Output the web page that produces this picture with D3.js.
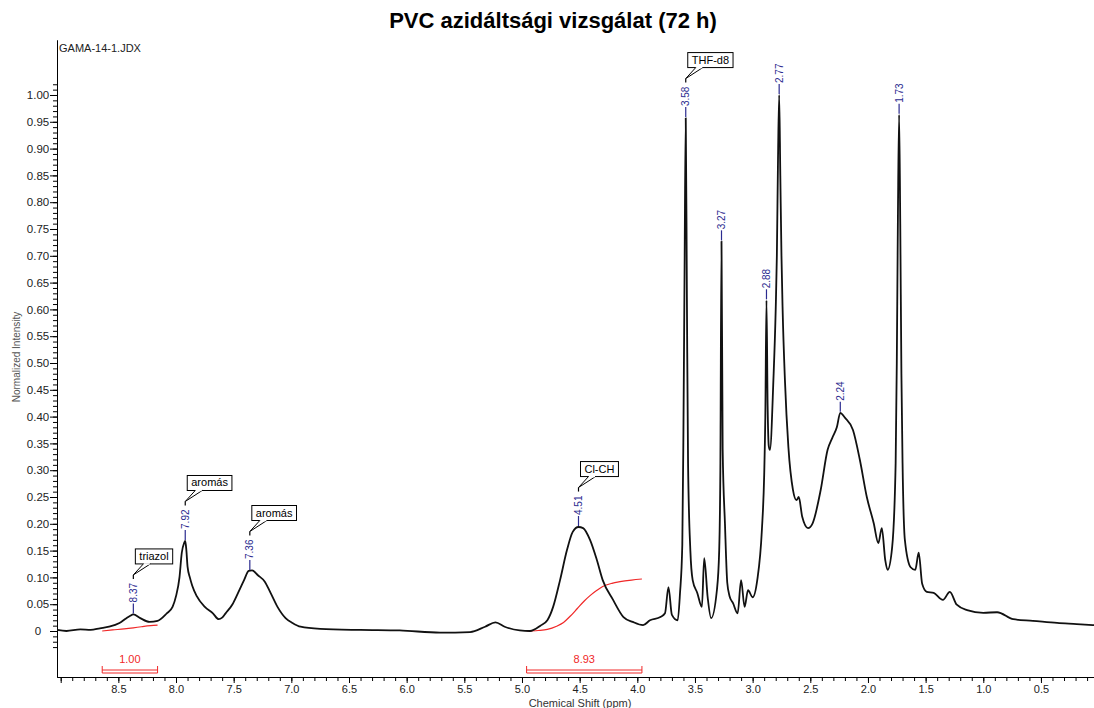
<!DOCTYPE html>
<html>
<head>
<meta charset="utf-8">
<script src="https://cdn.jsdelivr.net/npm/d3@7"></script>
<style>
body { margin: 0; background: #fff; }
svg { font-family: "Liberation Sans", Arial, sans-serif; }
</style>
</head>
<body>
<div id="chart"></div>
<script>
// spectrum (ppm, normalized intensity)
const specPpm = [9.03, 8.95, 8.83, 8.74, 8.66, 8.58, 8.49, 8.43, 8.40, 8.37, 8.31, 8.23, 8.16, 8.08, 8.03, 8.00,
  7.97, 7.95, 7.93, 7.92, 7.91, 7.90, 7.88, 7.86, 7.82, 7.75, 7.68, 7.63, 7.60, 7.57, 7.51, 7.46, 7.41, 7.37, 7.34,
  7.29, 7.23, 7.18, 7.12, 7.05, 6.99, 6.92, 6.75, 6.40, 6.06, 5.71, 5.45, 5.32, 5.23, 5.15, 5.02, 4.93, 4.84, 4.78,
  4.73, 4.67, 4.61, 4.56, 4.51, 4.47, 4.41, 4.35, 4.30, 4.21, 4.12, 4.04, 3.95, 3.89, 3.80, 3.76, 3.73, 3.70, 3.65,
  3.63, 3.61, 3.60, 3.59, 3.58, 3.57, 3.56, 3.54, 3.52, 3.48, 3.44, 3.42, 3.39, 3.36, 3.31, 3.29, 3.28, 3.27, 3.26,
  3.24, 3.22, 3.20, 3.17, 3.13, 3.10, 3.07, 3.04, 3.00, 2.96, 2.92, 2.90, 2.89, 2.88, 2.87, 2.86, 2.85, 2.82, 2.80,
  2.79, 2.78, 2.77, 2.76, 2.75, 2.74, 2.72, 2.69, 2.65, 2.62, 2.60, 2.57, 2.52, 2.48, 2.41, 2.35, 2.31, 2.27, 2.24,
  2.20, 2.13, 2.07, 2.01, 1.95, 1.91, 1.88, 1.85, 1.83, 1.79, 1.76, 1.75, 1.74, 1.73, 1.72, 1.71, 1.70, 1.68, 1.63,
  1.59, 1.56, 1.53, 1.49, 1.43, 1.35, 1.29, 1.23, 1.14, 1.00, 0.88, 0.74, 0.57, 0.36, 0.19, 0.04];
const specInt = [0.002, 0.000, 0.003, 0.002, 0.005, 0.008, 0.015, 0.024, 0.028, 0.031, 0.024, 0.017, 0.019, 0.033, 0.045, 0.065,
  0.100, 0.146, 0.164, 0.168, 0.150, 0.120, 0.100, 0.085, 0.065, 0.045, 0.033, 0.022, 0.025, 0.033, 0.050, 0.072, 0.095, 0.112, 0.113,
  0.104, 0.092, 0.071, 0.045, 0.024, 0.015, 0.008, 0.004, 0.002, 0.001, -0.003, -0.002, 0.008, 0.016, 0.008, 0.001, 0.000, 0.010, 0.020,
  0.045, 0.095, 0.151, 0.185, 0.194, 0.192, 0.170, 0.132, 0.095, 0.058, 0.026, 0.017, 0.011, 0.020, 0.026, 0.033, 0.082, 0.030, 0.020,
  0.070, 0.160, 0.375, 0.680, 0.957, 0.620, 0.313, 0.150, 0.095, 0.071, 0.045, 0.136, 0.063, 0.024, 0.076, 0.150, 0.300, 0.727, 0.340,
  0.200, 0.090, 0.065, 0.052, 0.033, 0.095, 0.045, 0.076, 0.063, 0.095, 0.188, 0.290, 0.400, 0.617, 0.420, 0.345, 0.338, 0.468, 0.600,
  0.700, 0.880, 1.000, 0.850, 0.700, 0.600, 0.468, 0.343, 0.263, 0.244, 0.250, 0.213, 0.192, 0.201, 0.263, 0.338, 0.360, 0.380, 0.407,
  0.398, 0.375, 0.319, 0.250, 0.201, 0.164, 0.192, 0.132, 0.114, 0.157, 0.313, 0.500, 0.780, 0.963, 0.760, 0.480, 0.313, 0.170, 0.119,
  0.114, 0.146, 0.088, 0.073, 0.071, 0.058, 0.073, 0.049, 0.039, 0.034, 0.035, 0.022, 0.019, 0.015, 0.013, 0.011];

// picked peaks
const peakPpm = [8.37, 7.92, 7.36, 4.51, 3.58, 3.27, 2.88, 2.77, 2.24, 1.73];

// callout boxes
const calloutPpm = [8.37, 7.92, 7.36, 4.51, 3.58];
const calloutText = ['triazol', 'aromás', 'aromás', 'Cl-CH', 'THF-d8'];

// integrals
const integralFrom = [8.64, 4.96];
const integralTo = [8.16, 3.96];
const integralLabel = ['1.00', '8.93'];
const int1Ppm = [8.64, 8.55, 8.45, 8.37, 8.30, 8.22, 8.16];
const int1Val = [0.000, 0.002, 0.004, 0.006, 0.008, 0.010, 0.011];
const int2Ppm = [4.96, 4.86, 4.78, 4.70, 4.64, 4.58, 4.52, 4.46, 4.41, 4.35, 4.30, 4.22, 4.15, 4.05, 3.96];
const int2Val = [0.000, 0.001, 0.003, 0.009, 0.016, 0.028, 0.042, 0.056, 0.066, 0.076, 0.083, 0.089, 0.092, 0.095, 0.097];

const width = 1094;
const height = 708;
const margin = { top: 40, bottom: 31, left: 57, right: 0 };
const chartWidth = width - margin.left - margin.right;
const chartHeight = height - margin.top - margin.bottom;

const svg = d3.select('#chart')
  .append('svg')
  .attr('width', width)
  .attr('height', height);

const chart = svg.append('g')
  .attr('transform', `translate(${margin.left},${margin.top})`);

const xScale = d3.scaleLinear()
  .domain([9.032, 0.04])
  .range([0, chartWidth]);
const yScale = d3.scaleLinear()
  .domain([-0.0858, 1.1026])
  .range([chartHeight, 0]);

// title + file name
svg.append('text')
  .attr('x', 553).attr('y', 28)
  .attr('text-anchor', 'middle')
  .style('font-size', '22px').style('font-weight', 'bold')
  .text('PVC azidáltsági vizsgálat (72 h)');

svg.append('text')
  .attr('x', margin.left + 2).attr('y', 52)
  .style('font-size', '11px').attr('fill', '#222')
  .text('GAMA-14-1.JDX');

// y axis: minor + major ticks
const yMinor = d3.range(-3, 103).map(i => i / 100);
const yMajor = d3.range(0, 21).map(i => i * 0.05);

chart.append('g')
  .call(d3.axisLeft(yScale).tickValues(yMinor).tickSize(4).tickSizeOuter(0).tickFormat(''));

const yAxis = chart.append('g')
  .call(d3.axisLeft(yScale).tickValues(yMajor).tickSize(7).tickSizeOuter(0)
    .tickFormat(d => d < 0.001 ? '0' : d3.format('.2f')(d)));
yAxis.selectAll('text')
  .attr('x', -19)
  .attr('text-anchor', 'middle')
  .attr('fill', '#222')
  .style('font-size', '11.5px');

// x axis
const xMinor = d3.range(1, 91).map(i => i / 10);
const xMajor = d3.range(1, 19).map(i => i * 0.5);

chart.append('g')
  .attr('transform', `translate(0,${chartHeight})`)
  .call(d3.axisBottom(xScale).tickValues(xMinor).tickSize(4).tickSizeOuter(0).tickFormat(''));

const xAxis = chart.append('g')
  .attr('transform', `translate(0,${chartHeight})`)
  .call(d3.axisBottom(xScale).tickValues(xMajor).tickSize(6).tickPadding(2).tickSizeOuter(0)
    .tickFormat(d => d > 8.9 ? '' : d3.format('.1f')(d)));
xAxis.selectAll('text')
  .attr('fill', '#222')
  .style('font-size', '11px');

chart.selectAll('.domain').attr('stroke', '#000');
chart.selectAll('.tick line').attr('stroke', '#000');

// axis titles
svg.append('text')
  .attr('transform', 'translate(16,357) rotate(-90)')
  .attr('text-anchor', 'middle')
  .attr('dy', '0.35em')
  .attr('fill', '#555')
  .style('font-size', '10px')
  .text('Normalized Intensity');

svg.append('text')
  .attr('x', 580).attr('y', 707)
  .attr('text-anchor', 'middle')
  .attr('fill', '#333')
  .style('font-size', '11px')
  .text('Chemical Shift (ppm)');

// integral curves + brackets
const intCurves = [d3.zip(int1Ppm, int1Val), d3.zip(int2Ppm, int2Val)];
const line = d3.line()
  .x(d => xScale(d[0]))
  .y(d => yScale(d[1]))
  .curve(d3.curveMonotoneX);

chart.selectAll('.integral')
  .data(intCurves)
  .enter()
  .append('path')
  .attr('d', line)
  .attr('fill', 'none')
  .attr('stroke', '#f02828')
  .attr('stroke-width', 1.2);

const brY = chartHeight - 4;
integralFrom.forEach((from, i) => {
  const x1 = xScale(from), x2 = xScale(integralTo[i]);
  chart.append('path')
    .attr('d', `M${x1},${brY - 7}V${brY}H${x2}V${brY - 7}M${x1},${brY - 3}H${x2}`)
    .attr('fill', 'none')
    .attr('stroke', '#f02828')
    .attr('stroke-width', 1);
  chart.append('text')
    .attr('x', (x1 + x2) / 2).attr('y', brY - 10)
    .attr('text-anchor', 'middle')
    .attr('fill', '#f02828')
    .style('font-size', '11px')
    .text(integralLabel[i]);
});

// spectrum
chart.append('path')
  .datum(d3.zip(specPpm, specInt).map(d => [-d[0], d[1]]))
  .attr('d', d3.line().x(d => xScale(-d[0])).y(d => yScale(d[1])).curve(d3.curveMonotoneX))
  .attr('fill', 'none')
  .attr('stroke', '#111')
  .attr('stroke-width', 1.8)
  .attr('stroke-linejoin', 'round');

// peak labels
const nearest = p => specInt[d3.minIndex(specPpm, q => Math.abs(q - p))];
const tickLen = 11;
const labelTop = {};

peakPpm.forEach(p => {
  const x = xScale(p);
  const y0 = yScale(nearest(p));
  chart.append('line')
    .attr('x1', x).attr('x2', x)
    .attr('y1', y0 - 1).attr('y2', y0 - tickLen)
    .attr('stroke', '#2b2b8f').attr('stroke-width', 1.2);
  const t = chart.append('text')
    .attr('transform', `translate(${x},${y0 - tickLen - 1}) rotate(-90)`)
    .attr('dy', '0.35em')
    .attr('fill', '#2b2b8f')
    .style('font-size', '10px')
    .text(d3.format('.2f')(p));
  labelTop[p] = y0 - tickLen - 1 - t.node().getComputedTextLength();
});

// callouts
calloutPpm.forEach((p, i) => {
  const px = xScale(p);
  const py = labelTop[p] - 4;
  const apex = py - 4;
  const boxBottom = apex - 11;
  const g = chart.append('g');
  const txt = g.append('text')
    .style('font-size', '11px')
    .text(calloutText[i]);
  const w = txt.node().getComputedTextLength() + 8;
  const bx = px + 2;
  g.insert('rect', 'text')
    .attr('x', bx).attr('y', boxBottom - 15)
    .attr('width', w).attr('height', 15)
    .attr('fill', '#fff').attr('stroke', '#000').attr('stroke-width', 1);
  txt.attr('x', bx + 4).attr('y', boxBottom - 4);
  g.append('path')
    .attr('d', `M${px + 10},${boxBottom}L${px},${apex}L${px + 17},${boxBottom}`)
    .attr('fill', '#fff').attr('stroke', '#000').attr('stroke-width', 1);
  g.append('line')
    .attr('x1', px + 10.5).attr('x2', px + 16.5)
    .attr('y1', boxBottom).attr('y2', boxBottom)
    .attr('stroke', '#fff').attr('stroke-width', 1.5);
  g.append('line')
    .attr('x1', px).attr('x2', px)
    .attr('y1', apex).attr('y2', py)
    .attr('stroke', '#000').attr('stroke-width', 1.2);
});
</script>
</body>
</html>
